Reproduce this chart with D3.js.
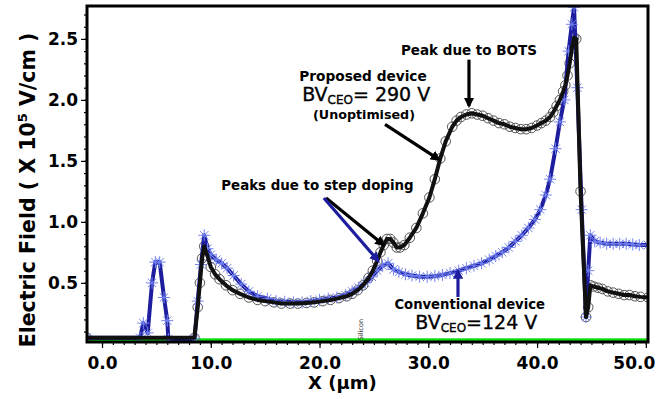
<!DOCTYPE html>
<html>
<head>
<meta charset="utf-8">
<script src="https://cdn.jsdelivr.net/npm/d3@7"></script>
<style>
  html, body { margin: 0; padding: 0; background: #fff; }
  svg { display: block; }
  text { font-family: "DejaVu Sans", sans-serif; }
</style>
</head>
<body>
<svg id="chart" width="667" height="399"></svg>
<script>
// Electric field profile along the device (x in µm, field in 1e5 V/cm)

// Proposed device (BV_CEO = 290 V, unoptimised)
const proposedX = [-1.4, 8.5, 8.8, 9.0, 9.2, 9.4, 9.7, 10.0, 10.4, 10.8, 11.4, 12.0, 12.7, 13.5, 14.3, 15.0, 15.8, 16.5, 17.3, 18.0, 18.8, 19.5, 20.3, 21.0, 21.8, 22.5, 23.0, 23.5, 24.0, 24.5, 24.9, 25.3, 25.6, 25.9, 26.2, 26.5, 26.8, 27.1, 27.4, 27.8, 28.3, 28.9, 29.5, 30.1, 30.6, 31.1, 31.6, 32.2, 32.6, 33.0, 33.5, 34.0, 34.5, 35.0, 35.5, 36.0, 36.5, 37.0, 37.5, 38.0, 38.5, 39.0, 39.5, 40.0, 40.4, 40.8, 41.2, 41.5, 41.8, 42.1, 42.4, 42.6, 42.8, 43.0, 43.2, 43.4, 43.6, 44.0, 44.5, 44.7, 44.9, 45.2, 45.6, 46.0, 46.5, 47.0, 47.5, 48.0, 48.5, 49.0, 49.5, 50.2];
const proposedE = [0.05, 0.05, 0.3, 0.5, 0.7, 0.8, 0.72, 0.63, 0.57, 0.53, 0.48, 0.44, 0.41, 0.38, 0.36, 0.35, 0.34, 0.33, 0.33, 0.33, 0.335, 0.34, 0.35, 0.36, 0.375, 0.39, 0.41, 0.44, 0.48, 0.54, 0.6, 0.68, 0.75, 0.81, 0.86, 0.86, 0.83, 0.79, 0.79, 0.81, 0.87, 0.95, 1.07, 1.2, 1.35, 1.52, 1.66, 1.78, 1.83, 1.86, 1.88, 1.89, 1.88, 1.87, 1.85, 1.83, 1.81, 1.80, 1.78, 1.77, 1.76, 1.76, 1.77, 1.79, 1.81, 1.83, 1.86, 1.9, 1.95, 2.0, 2.07, 2.12, 2.2, 2.3, 2.42, 2.51, 2.5, 1.25, 0.22, 0.3, 0.48, 0.47, 0.46, 0.45, 0.43, 0.42, 0.41, 0.4, 0.4, 0.39, 0.385, 0.38];

// Conventional device (BV_CEO = 124 V)
const conventionalX = [-1.4, 3.5, 3.8, 4.2, 4.6, 4.9, 5.3, 5.7, 6.0, 6.1, 8.5, 8.8, 9.1, 9.4, 9.7, 10.0, 10.5, 11.0, 11.5, 12.1, 12.8, 13.5, 14.3, 15.2, 16.0, 16.8, 17.6, 18.4, 19.2, 20.0, 20.8, 21.6, 22.4, 23.0, 23.6, 24.2, 24.8, 25.3, 25.8, 26.3, 26.8, 27.3, 27.9, 28.5, 29.2, 29.9, 30.6, 31.3, 32.0, 32.8, 33.5, 34.2, 34.9, 35.6, 36.2, 36.8, 37.4, 38.0, 38.6, 39.2, 39.8, 40.3, 40.8, 41.2, 41.7, 42.1, 42.5, 42.9, 43.2, 43.4, 43.7, 44.1, 44.5, 44.7, 44.9, 45.3, 45.8, 46.4, 47.0, 47.6, 48.2, 48.8, 49.4, 50.2];
const conventionalE = [0.05, 0.05, 0.17, 0.09, 0.5, 0.67, 0.67, 0.38, 0.19, 0.04, 0.04, 0.35, 0.65, 0.89, 0.78, 0.73, 0.69, 0.66, 0.62, 0.56, 0.49, 0.43, 0.39, 0.37, 0.35, 0.345, 0.34, 0.34, 0.35, 0.36, 0.37, 0.38, 0.40, 0.43, 0.46, 0.50, 0.55, 0.6, 0.64, 0.66, 0.61, 0.59, 0.57, 0.56, 0.55, 0.55, 0.555, 0.565, 0.58, 0.6, 0.62, 0.64, 0.66, 0.69, 0.72, 0.75, 0.79, 0.84, 0.89, 0.95, 1.02, 1.1, 1.22, 1.35, 1.6, 1.82, 2.0, 2.4, 2.62, 2.76, 2.1, 1.1, 0.22, 0.6, 0.89, 0.84, 0.83, 0.82, 0.82, 0.82, 0.82, 0.815, 0.81, 0.81];

// Baseline (green) trace
const baselineX = [-1.4, 50.2];
const baselineE = [0.03, 0.03];

// Axis ticks
const xTicks = [0, 10, 20, 30, 40, 50];
const yTicks = [0.5, 1.0, 1.5, 2.0, 2.5];

const svg = d3.select("#chart");
const plot = { left: 87, right: 648, top: 6, bottom: 342 };

const x = d3.scaleLinear().domain([-1.38, 50.2]).range([plot.left, plot.right]);
const y = d3.scaleLinear().domain([0.015, 2.77]).range([plot.bottom, plot.top]);

const defs = svg.append("defs");
defs.append("clipPath").attr("id", "plotClip")
  .append("rect")
  .attr("x", plot.left).attr("y", plot.top)
  .attr("width", plot.right - plot.left).attr("height", plot.bottom - plot.top);

// arrowheads
function arrowMarker(id, color) {
  defs.append("marker")
    .attr("id", id)
    .attr("viewBox", "0 0 10 10")
    .attr("refX", 8).attr("refY", 5)
    .attr("markerWidth", 3.2).attr("markerHeight", 3.2)
    .attr("markerUnits", "strokeWidth")
    .attr("orient", "auto")
    .append("path").attr("d", "M0,0 L10,5 L0,10 z").attr("fill", color);
}
arrowMarker("arrowBlack", "#000");
arrowMarker("arrowBlue", "#1d1d9e");

const zip = (xs, ys) => xs.map((v, i) => [v, ys[i]]);
const proposed = zip(proposedX, proposedE);
const conventional = zip(conventionalX, conventionalE);
const baseline = zip(baselineX, baselineE);

const line = d3.line().x(d => x(d[0])).y(d => y(d[1]));

const g = svg.append("g").attr("clip-path", "url(#plotClip)");

// green baseline
g.append("path").attr("d", line(baseline))
  .attr("fill", "none").attr("stroke", "#10e010").attr("stroke-width", 4);

// proposed-device circle markers
g.append("g").selectAll("circle").data(proposed).join("circle")
  .attr("cx", d => x(d[0])).attr("cy", d => y(d[1])).attr("r", 4.8)
  .attr("fill", "none").attr("stroke", "#555").attr("stroke-width", 1);

// conventional-device line + star markers
g.append("path").attr("d", line(conventional))
  .attr("fill", "none").attr("stroke", "#1d1d9e").attr("stroke-width", 4)
  .attr("stroke-linejoin", "round");

const star = "M-6,0L6,0M0,-6L0,6M-4.2,-4.2L4.2,4.2M-4.2,4.2L4.2,-4.2";
g.append("g").selectAll("path").data(conventional).join("path")
  .attr("transform", d => `translate(${x(d[0])},${y(d[1])})`)
  .attr("d", star).attr("stroke", "#7384f2").attr("stroke-width", 1).attr("fill", "none");

// proposed-device line
g.append("path").attr("d", line(proposed))
  .attr("fill", "none").attr("stroke", "#111").attr("stroke-width", 4)
  .attr("stroke-linejoin", "round");

// axes
const xAxis = svg.append("g").attr("transform", `translate(0,${plot.bottom})`)
  .call(d3.axisBottom(x).tickValues(xTicks).tickFormat(d3.format(".1f")).tickSize(6).tickPadding(5));
svg.append("g").attr("transform", `translate(0,${plot.bottom})`)
  .call(d3.axisBottom(x).tickValues(d3.range(0, 51, 1)).tickFormat("").tickSize(3));
const yAxis = svg.append("g").attr("transform", `translate(${plot.left},0)`)
  .call(d3.axisLeft(y).tickValues(yTicks).tickFormat(d3.format(".1f")).tickSize(6).tickPadding(3));
svg.append("g").attr("transform", `translate(${plot.left},0)`)
  .call(d3.axisLeft(y).tickValues(d3.range(0.1, 2.75, 0.1)).tickFormat("").tickSize(3));

svg.selectAll(".domain").remove();
svg.selectAll(".tick line").attr("stroke", "#000").attr("stroke-width", 1.2);
svg.selectAll(".tick text").attr("font-family", "DejaVu Sans").attr("font-weight", "bold")
  .attr("font-size", 17).attr("fill", "#000");
xAxis.selectAll(".tick text").attr("dy", "0.95em");
xAxis.selectAll(".tick text").filter(d => d === 50).attr("dx", -12);

// frame
svg.append("rect")
  .attr("x", plot.left).attr("y", plot.top)
  .attr("width", plot.right - plot.left).attr("height", plot.bottom - plot.top)
  .attr("fill", "none").attr("stroke", "#000").attr("stroke-width", 3);

// axis titles
svg.append("text")
  .attr("x", x(22.1)).attr("y", 389)
  .attr("text-anchor", "middle").attr("font-weight", "bold").attr("font-size", 18)
  .text("X (µm)");

const yTitle = svg.append("text")
  .attr("transform", `translate(35,${(plot.top + plot.bottom) / 2 + 16}) rotate(-90)`)
  .attr("text-anchor", "middle").attr("font-weight", "bold").attr("font-size", 20.5);
yTitle.append("tspan").text("Electric Field ( X 10");
yTitle.append("tspan").attr("font-size", 13).attr("dy", -8).text("5");
yTitle.append("tspan").attr("dy", 8).text(" V/cm )");

// annotations
const ann = svg.append("g");
function label(tx, ty, str, size, anchor, weight) {
  return ann.append("text").attr("x", x(tx)).attr("y", y(ty))
    .attr("text-anchor", anchor).attr("font-size", size)
    .attr("font-weight", weight).text(str);
}
function arrow(x1, y1, x2, y2, color, marker) {
  ann.append("line")
    .attr("x1", x(x1)).attr("y1", y(y1)).attr("x2", x(x2)).attr("y2", y(y2))
    .attr("stroke", color).attr("stroke-width", 3.2)
    .attr("marker-end", `url(#${marker})`);
}
function bvLabel(tx, ty, rest) {
  const t = ann.append("text").attr("x", x(tx)).attr("y", y(ty))
    .attr("font-family", "Liberation Sans, Arial, sans-serif")
    .attr("font-weight", "normal").attr("font-size", 19)
    .attr("stroke", "#000").attr("stroke-width", 0.35);
  t.append("tspan").text("BV");
  t.append("tspan").attr("font-size", 12).attr("dy", 3).text("CEO");
  t.append("tspan").attr("dy", -3).text(rest);
}

label(33.74, 2.37, "Peak due to BOTS", 13.5, "middle", "bold");
arrow(33.74, 2.33, 33.74, 1.95, "#000", "arrowBlack");

label(24.0, 2.155, "Proposed device", 13.7, "middle", "bold");
bvLabel(18.4, 1.99, "= 290 V");
label(24.09, 1.845, "(Unoptimised)", 12.7, "middle", "bold");
arrow(26.02, 1.80, 31.0, 1.51, "#000", "arrowBlack");

label(19.81, 1.261, "Peaks due to step doping", 13.4, "middle", "bold");
arrow(20.6, 1.196, 25.9, 0.81, "#000", "arrowBlack");
arrow(20.4, 1.196, 25.4, 0.68, "#1d1d9e", "arrowBlue");

label(40.73, 0.285, "Conventional device", 13.2, "end", "bold");
bvLabel(28.8, 0.12, "=124 V");
arrow(32.73, 0.384, 32.73, 0.6, "#1d1d9e", "arrowBlue");

ann.append("text")
  .attr("transform", `translate(${x(24.0)},${y(0.03)}) rotate(-90)`)
  .attr("font-size", 6.5).attr("fill", "#333").text("Silicon");
</script>
</body>
</html>
